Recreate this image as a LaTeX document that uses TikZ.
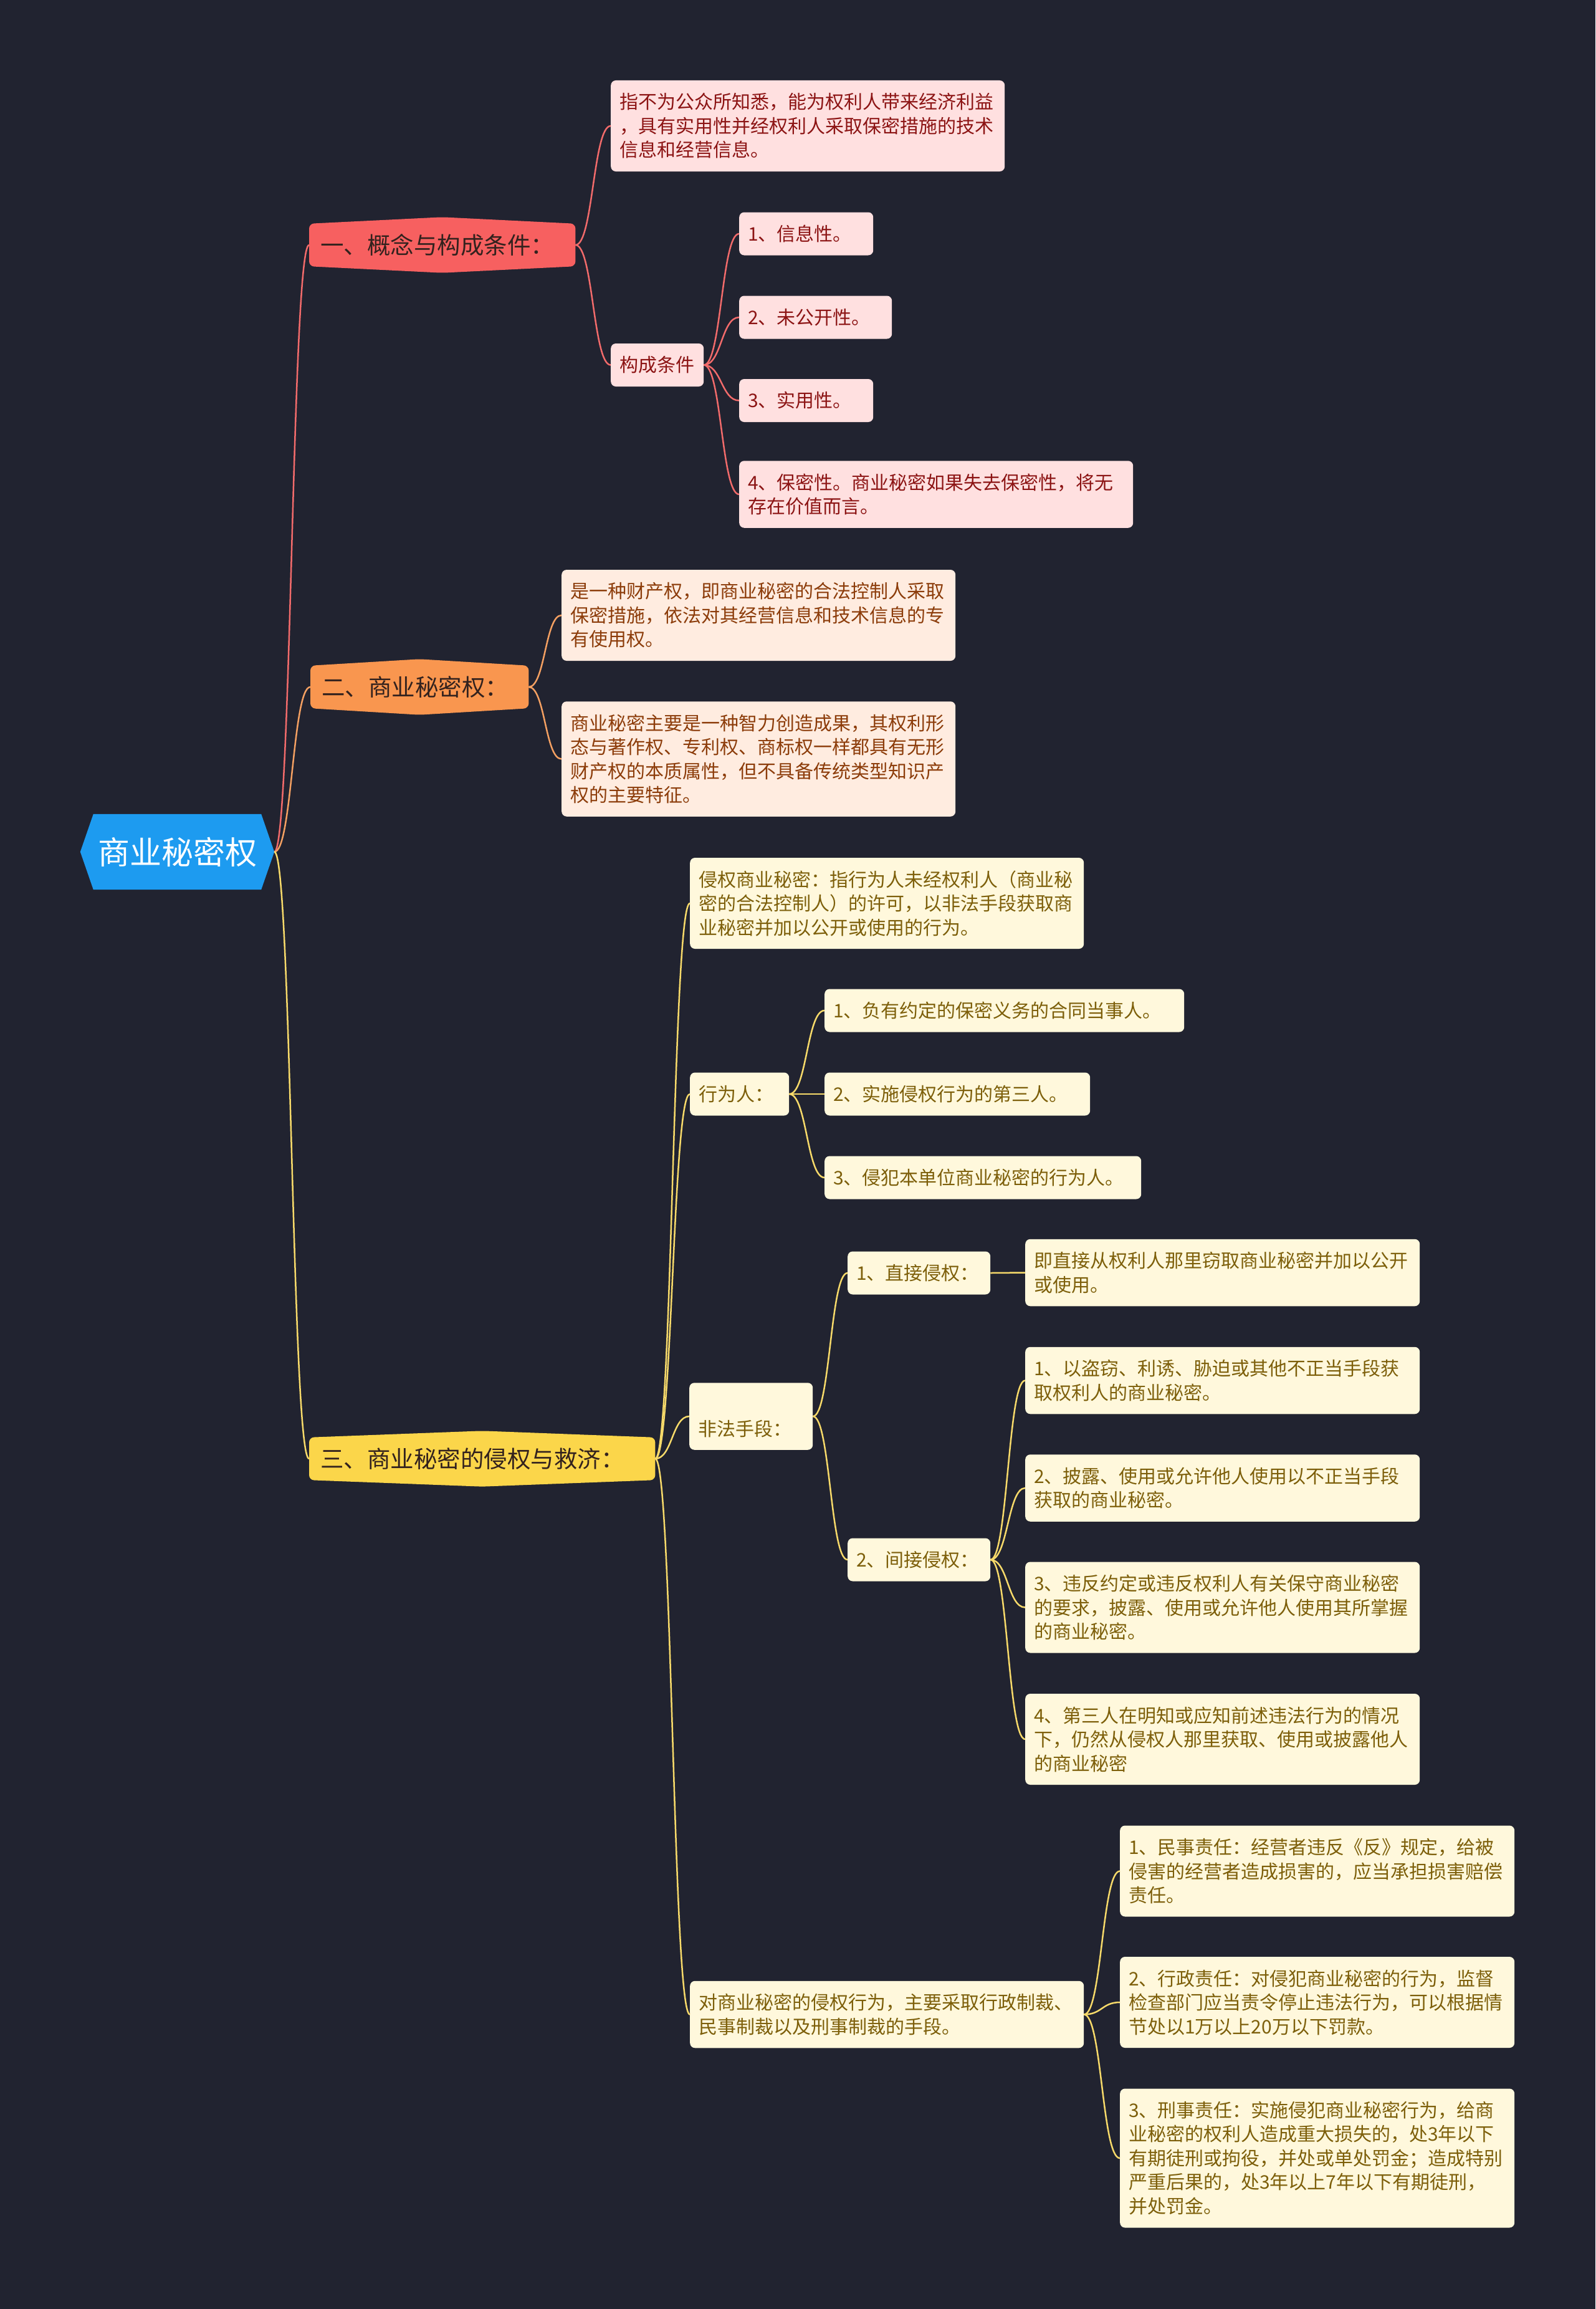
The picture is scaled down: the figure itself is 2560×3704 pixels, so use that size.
\documentclass[tikz,border=0pt]{standalone}
\usepackage{fontspec}
\setmainfont{Noto Sans CJK SC}
\usetikzlibrary{calc,backgrounds}
\definecolor{night}{HTML}{212330}
\definecolor{azure}{HTML}{1D9BF0}
\definecolor{coral}{HTML}{F76060}
\definecolor{tangerine}{HTML}{F9964F}
\definecolor{sun}{HTML}{FBD64A}
\definecolor{rosebg}{HTML}{FFE0E0}
\definecolor{rosetx}{HTML}{8C1414}
\definecolor{peachbg}{HTML}{FFECE0}
\definecolor{peachtx}{HTML}{8C3C0A}
\definecolor{creambg}{HTML}{FFF8DC}
\definecolor{creamtx}{HTML}{7D5F0A}
\definecolor{redline}{HTML}{F26B6B}
\definecolor{orangeline}{HTML}{F4A062}
\definecolor{yellowline}{HTML}{F7DA6A}
\definecolor{topictx}{HTML}{33221E}

\begin{document}
\begin{tikzpicture}[x=1pt,y=-1pt,
    twig/.style={line width=2.5pt,to path={let \p1=(\tikztostart),\p2=(\tikztotarget) in
      .. controls ({(\x1+\x2)/2},\y1) and ({(\x1+\x2)/2},\y2) .. (\tikztotarget)}},
    card/.style={rounded corners=8pt,anchor=west,align=left,inner xsep=14pt,inner ysep=0pt,
      font=\fontsize{30}{38.5}\selectfont},
    topic/.style={anchor=west,align=left,inner xsep=18pt,inner ysep=0pt,minimum height=68pt,
      text=topictx,font=\fontsize{37.5}{45}\selectfont}]
  \useasboundingbox (0,0) rectangle (2560,3704);

  % root and main topics
  \node[font=\fontsize{51}{60}\selectfont,text=white,minimum width=269pt,minimum height=121pt,inner sep=0pt] (root) at (284.5,1366.5) {商业秘密权};
  \coordinate (roottip) at ([xshift=21pt]root.east);
  \node[topic,text width=391pt] (b1) at (496,393) {一、概念与构成条件：};
  \node[topic,text width=314pt] (b2) at (498,1102) {二、商业秘密权：};
  \node[topic,text width=519pt] (b3) at (496,2340) {三、商业秘密的侵权与救济：};

  \begin{scope}[on background layer]
    \fill[night] (0,0) rectangle (2560,3704);
    \fill[azure] (root.north west) -- (root.north east) -- (roottip) -- (root.south east)
      -- (root.south west) -- ([xshift=-21pt]root.west) -- cycle;
    \foreach \b/\c in {b1/coral,b2/tangerine,b3/sun}
      \fill[\c,rounded corners=8pt] (\b.north west) -- ([yshift=10.5pt]\b.north) -- (\b.north east)
        -- (\b.south east) -- ([yshift=-10.5pt]\b.south) -- (\b.south west) -- cycle;
  \end{scope}
  \foreach \b/\c in {b1/redline,b2/orangeline,b3/yellowline}
    \draw[twig,\c] (roottip) to (\b.west);

  % branch 1
  \foreach \nm/\up/\px/\py/\w/\l/\t in {
      L1a/b1/980/202/632/3/{指不为公众所知悉，能为权利人带来经济利益\\，具有实用性并经权利人采取保密措施的技术\\信息和经营信息。},
      gc/b1/980/585.5/149/1/{构成条件},
      c1/gc/1186/375/215/1/{1、信息性。},
      c2/gc/1186/509/245/1/{2、未公开性。},
      c3/gc/1186/642.5/215/1/{3、实用性。},
      c4/gc/1186/793/632/2/{4、保密性。商业秘密如果失去保密性，将无\\存在价值而言。}}{
    \pgfmathsetmacro\tw{\w-28}
    \node[card,fill=rosebg,text=rosetx,text width=\tw pt,minimum height={30.5pt+38.5pt*\l}] (\nm) at (\px,\py) {\t};
    \draw[twig,redline] (\up.east) to (\nm.west);
  }

  % branch 2
  \foreach \nm/\up/\px/\py/\w/\l/\t in {
      L2a/b2/901/987/632/3/{是一种财产权，即商业秘密的合法控制人采取\\保密措施，依法对其经营信息和技术信息的专\\有使用权。},
      L2b/b2/901/1217.5/632/4/{商业秘密主要是一种智力创造成果，其权利形\\态与著作权、专利权、商标权一样都具有无形\\财产权的本质属性，但不具备传统类型知识产\\权的主要特征。}}{
    \pgfmathsetmacro\tw{\w-28}
    \node[card,fill=peachbg,text=peachtx,text width=\tw pt,minimum height={30.5pt+38.5pt*\l}] (\nm) at (\px,\py) {\t};
    \draw[twig,orangeline] (\up.east) to (\nm.west);
  }

  % branch 3
  \foreach \nm/\up/\px/\py/\w/\l/\t in {
      L3a/b3/1107/1449/632/3/{侵权商业秘密：指行为人未经权利人（商业秘\\密的合法控制人）的许可，以非法手段获取商\\业秘密并加以公开或使用的行为。},
      xwr/b3/1107/1755/159/1/{行为人：},
      x1/xwr/1323/1621/577/1/{1、负有约定的保密义务的合同当事人。},
      x2/xwr/1323/1755/426/1/{2、实施侵权行为的第三人。},
      x3/xwr/1323/1889/508/1/{3、侵犯本单位商业秘密的行为人。},
      ffsd/b3/1106/2272/198/2/{\strut\\非法手段：},
      d1/ffsd/1360/2042/229/1/{1、直接侵权：},
      d1a/d1/1645/2041.5/633/2/{即直接从权利人那里窃取商业秘密并加以公开\\或使用。},
      d2/ffsd/1360/2502/229/1/{2、间接侵权：},
      e1/d2/1645/2214.5/633/2/{1、以盗窃、利诱、胁迫或其他不正当手段获\\取权利人的商业秘密。},
      e2/d2/1645/2387/633/2/{2、披露、使用或允许他人使用以不正当手段\\获取的商业秘密。},
      e3/d2/1645/2578.5/633/3/{3、违反约定或违反权利人有关保守商业秘密\\的要求，披露、使用或允许他人使用其所掌握\\的商业秘密。},
      e4/d2/1645/2790/633/3/{4、第三人在明知或应知前述违法行为的情况\\下，仍然从侵权人那里获取、使用或披露他人\\的商业秘密},
      L3d/b3/1107/3231.5/632/2/{对商业秘密的侵权行为，主要采取行政制裁、\\民事制裁以及刑事制裁的手段。},
      f1/L3d/1797/3001.5/633/3/{1、民事责任：经营者违反《反》规定，给被\\侵害的经营者造成损害的，应当承担损害赔偿\\责任。},
      f2/L3d/1797/3212/633/3/{2、行政责任：对侵犯商业秘密的行为，监督\\检查部门应当责令停止违法行为，可以根据情\\节处以1万以上20万以下罚款。},
      f3/L3d/1797/3462/633/5/{3、刑事责任：实施侵犯商业秘密行为，给商\\业秘密的权利人造成重大损失的，处3年以下\\有期徒刑或拘役，并处或单处罚金；造成特别\\严重后果的，处3年以上7年以下有期徒刑，\\并处罚金。}}{
    \pgfmathsetmacro\tw{\w-28}
    \node[card,fill=creambg,text=creamtx,text width=\tw pt,minimum height={30.5pt+38.5pt*\l}] (\nm) at (\px,\py) {\t};
    \draw[twig,yellowline] (\up.east) to (\nm.west);
  }
\end{tikzpicture}
\end{document}
